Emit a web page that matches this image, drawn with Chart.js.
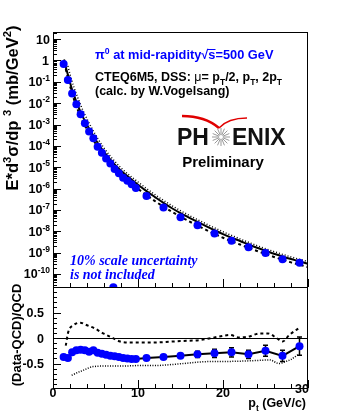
<!DOCTYPE html>
<html>
<head>
<meta charset="utf-8">
<script src="https://cdn.jsdelivr.net/npm/chart.js@4.4.0/dist/chart.umd.min.js"></script>
<style>
  body { margin: 0; background: #fff; }
  #wrap { position: relative; width: 346px; height: 418px; }
  canvas { position: absolute; left: 0; }
</style>
</head>
<body>
<div id="wrap">
  <canvas id="specChart" width="346" height="300" style="top:0"></canvas>
  <canvas id="ratioChart" width="346" height="138" style="top:280px"></canvas>
</div>
<script>
// measured pi0 cross section vs pT
var ptBins = [1.25, 1.75, 2.25, 2.75, 3.25, 3.75, 4.25, 4.75, 5.25, 5.75, 6.25, 6.75, 7.25, 7.75,
              8.25, 8.75, 9.25, 9.75, 11, 13, 15, 17, 19, 21, 23, 25, 27, 29];
var xsec = [0.69, 0.123, 0.0288, 8.9e-3, 3.0e-3, 1.15e-3, 4.7e-4, 2.3e-4, 9.1e-5, 4.8e-5, 2.6e-5,
            1.5e-5, 8.3e-6, 5.2e-6, 3.2e-6, 2.3e-6, 1.6e-6, 1.07e-6, 4.5e-7, 1.3e-7, 4.6e-8,
            1.9e-8, 7.8e-9, 3.6e-9, 1.8e-9, 9.5e-10, 4.9e-10, 3.4e-10];
// (Data-QCD)/QCD and its errors
var ratio = [-0.37, -0.39, -0.28, -0.24, -0.23, -0.24, -0.27, -0.24, -0.29, -0.31, -0.33, -0.35,
             -0.36, -0.37, -0.39, -0.40, -0.41, -0.41, -0.39, -0.37, -0.35, -0.32, -0.30, -0.28,
             -0.32, -0.25, -0.35, -0.16];
var ratioErr = [0, 0, 0, 0, 0, 0, 0, 0, 0, 0, 0, 0, 0, 0, 0, 0, 0, 0,
                0.02, 0.03, 0.04, 0.06, 0.08, 0.09, 0.08, 0.11, 0.11, 0.18];
// stray point sitting on the lower frame edge
var strayPt = [7.1];
var strayVal = [2.4e-11];

// NLO pQCD, mu = pT
var qcdPt = [1.3, 1.5, 1.75, 2, 2.25, 2.5, 2.75, 3, 3.5, 4, 4.5, 5, 5.5, 6, 7, 8, 9, 10, 11, 12, 13,
             14, 15, 16, 17, 18, 19, 20, 21, 22, 23, 24, 25, 26, 27, 28, 29, 30];
var qcdMid = [1.12, 0.50, 0.219, 0.093, 0.0427, 0.0219, 0.0117, 6.6e-3, 2.34e-3, 9.5e-4, 4.3e-4,
              2.0e-4, 9.8e-5, 5.2e-5, 1.74e-5, 6.8e-6, 3.2e-6, 1.51e-6, 7.6e-7, 4.0e-7, 2.14e-7,
              1.2e-7, 7.1e-8, 4.4e-8, 2.75e-8, 1.74e-8, 1.12e-8, 7.4e-9, 5.0e-9, 3.5e-9, 2.4e-9,
              1.7e-9, 1.23e-9, 8.9e-10, 6.6e-10, 5.0e-10, 3.9e-10, 3.0e-10];
// mu = pT/2 (dotted)
var hiPt = [1.75, 2, 2.5, 3, 3.5, 4, 5, 6, 7, 8, 10, 12, 14, 16, 18, 20, 22, 24, 26, 28, 30];
var qcdHi = [0.55, 0.224, 0.050, 0.0148, 4.8e-3, 1.82e-3, 3.3e-4, 7.9e-5, 2.5e-5, 9.3e-6, 2.04e-6,
             5.2e-7, 1.58e-7, 5.6e-8, 2.24e-8, 9.5e-9, 4.4e-9, 2.14e-9, 1.12e-9, 6.3e-10, 3.8e-10];
// mu = 2pT (dashed)
var loPt = [1.5, 1.75, 2, 2.5, 3, 3.5, 4, 5, 6, 7, 8, 10, 12, 14, 16, 18, 20, 22, 24, 26, 28, 30];
var qcdLo = [0.40, 0.158, 0.065, 0.0138, 4.0e-3, 1.41e-3, 5.9e-4, 1.29e-4, 3.4e-5, 1.1e-5, 4.3e-6,
             9.8e-7, 2.6e-7, 8.1e-8, 2.95e-8, 1.17e-8, 5.0e-9, 2.4e-9, 1.2e-9, 6.3e-10, 3.5e-10, 2.1e-10];

// scale curves in the ratio panel
var dashPt = [1.5, 1.8, 2.4, 3.2, 4, 4.9, 5.9, 6.9, 7.9, 9, 11.4, 14, 15, 17.3, 19.6, 20.8, 21.9,
              23.1, 24.3, 25.3, 26.3, 27, 27.8, 28.9];
var dashRatio = [-0.15, 0.12, 0.25, 0.30, 0.25, 0.19, 0.09, 0.01, -0.07, -0.09, -0.09, -0.07, -0.06,
                 -0.04, 0.03, 0.06, 0.01, 0.03, 0.09, 0.09, 0.0, -0.07, 0.06, 0.19];
var dotPt = [2.2, 3, 3.6, 4.7, 6.3, 8, 10.2, 12, 14, 16, 17.3, 18.8, 20, 22.7, 24, 25.5, 26.6, 27.4,
             28, 28.8];
var dotRatio = [-0.73, -0.67, -0.63, -0.56, -0.55, -0.55, -0.54, -0.54, -0.52, -0.49, -0.47, -0.46,
                -0.46, -0.45, -0.44, -0.43, -0.50, -0.46, -0.42, -0.33];

// axis ticks
var xMajor = [0, 10, 20, 30];
var xTickLabels = ['0', '10', '20', '30'];
var logExps = [1, 0, -1, -2, -3, -4, -5, -6, -7, -8, -9, -10];
var ratioTicks = [0.5, 0, -0.5];
var ratioTickLabels = ['0.5', '0', '-0.5'];

var BLUE = '#0000ff';
var FAM = '"Liberation Sans", Arial, sans-serif';

function pts(xs, ys) {
    return xs.map(function(x, i) { return { x: x, y: ys[i] }; });
}

function fnt(size, weight, style) {
    return (style || '') + ' ' + (weight || 'bold') + ' ' + size + 'px ' + FAM;
}

// draws text made of plain / superscript / subscript pieces
function drawRich(ctx, parts, x, y, size, align) {
    var w = 0;
    parts.forEach(function(p) {
        var s = p.s ? size * 0.68 : size;
        ctx.font = fnt(s, p.w, p.i);
        p._w = ctx.measureText(p.t).width;
        w += p._w;
    });
    var cx = align === 'right' ? x - w : align === 'center' ? x - w / 2 : x;
    ctx.textAlign = 'left';
    ctx.textBaseline = 'alphabetic';
    parts.forEach(function(p) {
        var s = p.s ? size * 0.68 : size;
        var dy = p.s === 'sup' ? -size * 0.42 : p.s === 'sub' ? size * 0.28 : 0;
        ctx.font = fnt(s, p.w, p.i);
        ctx.fillText(p.t, cx, y + dy);
        if (p.over) {
            ctx.fillRect(cx - 1, y - size * 0.78, p._w + 1, 1);
        }
        cx += p._w;
    });
    return w;
}

function spline(d) {
    return Object.assign({ showLine: true, pointRadius: 0, fill: false, cubicInterpolationMode: 'monotone' }, d);
}

// ROOT style frame with ticks pointing inwards
function drawFrame(chart, yMinor, yMajorList) {
    var ctx = chart.ctx, a = chart.chartArea;
    var xs = chart.scales.x, ys = chart.scales.y;
    ctx.save();
    ctx.strokeStyle = '#000';
    ctx.lineWidth = 1;
    ctx.strokeRect(a.left + 0.5, a.top + 0.5, a.right - a.left - 1, a.bottom - a.top);
    ctx.beginPath();
    for (var v = 0; v <= 30; v += 2) {
        var px = Math.round(xs.getPixelForValue(v)) + 0.5;
        var len = xMajor.indexOf(v) >= 0 ? 8 : 4;
        ctx.moveTo(px, a.bottom);
        ctx.lineTo(px, a.bottom - len);
    }
    yMinor.forEach(function(v) {
        var py = Math.round(ys.getPixelForValue(v)) + 0.5;
        if (py < a.top || py > a.bottom) return;
        var len = yMajorList.indexOf(v) >= 0 ? 8 : 4;
        ctx.moveTo(a.left, py);
        ctx.lineTo(a.left + len, py);
    });
    ctx.stroke();
    ctx.restore();
}

var logMinor = [];
var logMajor = [];
logExps.concat([-11]).forEach(function(e) {
    for (var m = 1; m <= 9; m++) {
        var v = m * Math.pow(10, e);
        logMinor.push(v);
        if (m === 1) logMajor.push(v);
    }
});

var specPlugin = {
    id: 'specDecor',
    afterDraw: function(chart) {
        var ctx = chart.ctx, ys = chart.scales.y;
        drawFrame(chart, logMinor, logMajor);
        ctx.save();
        ctx.fillStyle = '#000';
        // y tick labels
        logExps.forEach(function(e) {
            var py = ys.getPixelForValue(Math.pow(10, e)) + 4.5;
            if (e === 1) drawRich(ctx, [{ t: '10' }], 50, py, 12.5, 'right');
            else if (e === 0) drawRich(ctx, [{ t: '1' }], 49, py, 12.5, 'right');
            else drawRich(ctx, [{ t: '10' }, { t: String(e), s: 'sup' }], 50, py, 12.5, 'right');
        });
        // y title
        ctx.save();
        ctx.translate(18, 108);
        ctx.rotate(-Math.PI / 2);
        drawRich(ctx, [{ t: 'E*d' }, { t: '3', s: 'sup' }, { t: 'σ/dp ' }, { t: '3', s: 'sup' },
                       { t: ' (mb/GeV' }, { t: '2', s: 'sup' }, { t: ')' }], 0, 0, 16.5, 'center');
        ctx.restore();

        // labels in the plot
        ctx.fillStyle = BLUE;
        drawRich(ctx, [{ t: 'π' }, { t: '0', s: 'sup' }, { t: ' at mid-rapidity' }, { t: '√' },
                       { t: 's', over: true }, { t: '=500 GeV' }], 95, 59, 12.8);
        ctx.fillStyle = '#000';
        drawRich(ctx, [{ t: 'CTEQ6M5, DSS: ' }, { t: 'μ', w: 'normal' }, { t: '= p' }, { t: 'T', s: 'sub' },
                       { t: '/2, p' }, { t: 'T', s: 'sub' }, { t: ', 2p' }, { t: 'T', s: 'sub' }], 95, 81, 12.5);
        drawRich(ctx, [{ t: '(calc. by W.Vogelsang)' }], 95, 95, 12.5);

        // PHENIX logo
        ctx.strokeStyle = '#e00000';
        ctx.lineWidth = 2.5;
        ctx.beginPath();
        ctx.moveTo(182, 116);
        ctx.quadraticCurveTo(205, 116, 219, 128);
        ctx.stroke();
        ctx.lineWidth = 1.3;
        ctx.beginPath();
        ctx.moveTo(219, 128);
        ctx.quadraticCurveTo(228, 118, 247, 118);
        ctx.stroke();
        ctx.fillStyle = '#111';
        ctx.font = fnt(23);
        ctx.textAlign = 'left';
        ctx.fillText('PH', 177, 145);
        ctx.fillText('ENIX', 232, 145);
        ctx.strokeStyle = '#999';
        ctx.lineWidth = 1;
        ctx.beginPath();
        for (var k = 0; k < 16; k++) {
            var an = k * Math.PI / 8;
            ctx.moveTo(221 + 2 * Math.cos(an), 137 + 2 * Math.sin(an));
            ctx.lineTo(221 + 9 * Math.cos(an), 137 + 9 * Math.sin(an));
        }
        ctx.stroke();
        ctx.fillStyle = '#000';
        drawRich(ctx, [{ t: 'Preliminary' }], 223, 167, 15, 'center');

        ctx.fillStyle = BLUE;
        ctx.font = 'italic bold 14px "Liberation Serif", serif';
        ctx.fillText('10% scale uncertainty', 70, 265);
        ctx.fillText('is not included', 70, 279);
        ctx.restore();
    }
};

var ratioPlugin = {
    id: 'ratioDecor',
    beforeDatasetsDraw: function(chart) {
        var ctx = chart.ctx, xs = chart.scales.x, ys = chart.scales.y, a = chart.chartArea;
        ctx.save();
        ctx.strokeStyle = '#000';
        ctx.lineWidth = 1;
        ctx.beginPath();
        var y0 = Math.round(ys.getPixelForValue(0)) + 0.5;
        ctx.moveTo(a.left, y0);
        ctx.lineTo(a.right, y0);
        ctx.stroke();
        // error bars
        ctx.lineWidth = 1.5;
        ctx.beginPath();
        ptBins.forEach(function(p, i) {
            if (!ratioErr[i]) return;
            var px = xs.getPixelForValue(p);
            var t = ys.getPixelForValue(ratio[i] + ratioErr[i]);
            var b = ys.getPixelForValue(ratio[i] - ratioErr[i]);
            ctx.moveTo(px, t); ctx.lineTo(px, b);
            ctx.moveTo(px - 2.5, t); ctx.lineTo(px + 2.5, t);
            ctx.moveTo(px - 2.5, b); ctx.lineTo(px + 2.5, b);
        });
        ctx.stroke();
        ctx.restore();
    },
    afterDraw: function(chart) {
        var ctx = chart.ctx, xs = chart.scales.x, ys = chart.scales.y;
        var minor = [];
        for (var v = -9; v <= 10; v++) minor.push(v / 10);
        drawFrame(chart, minor, [0.5, 0, -0.5, 1]);
        ctx.save();
        ctx.fillStyle = '#000';
        ratioTicks.forEach(function(v, i) {
            drawRich(ctx, [{ t: ratioTickLabels[i] }], 44, ys.getPixelForValue(v) + 4.5, 12.5, 'right');
        });
        xMajor.forEach(function(v, i) {
            var px = xs.getPixelForValue(v);
            if (v === 30) drawRich(ctx, [{ t: xTickLabels[i] }], px + 1, 113, 12.5, 'right');
            else drawRich(ctx, [{ t: xTickLabels[i] }], px, 117, 12.5, 'center');
        });
        drawRich(ctx, [{ t: 'p' }, { t: 't', s: 'sub' }, { t: ' (GeV/c)' }], 306, 127, 12.5, 'right');
        ctx.save();
        ctx.translate(21, 55);
        ctx.rotate(-Math.PI / 2);
        drawRich(ctx, [{ t: '(Data-QCD)/QCD' }], 0, 0, 13, 'center');
        ctx.restore();
        ctx.restore();
    }
};

var noLegend = { legend: { display: false }, tooltip: { enabled: false } };

new Chart(document.getElementById('specChart'), {
    type: 'scatter',
    data: {
        datasets: [
            { data: pts(ptBins, xsec), pointRadius: 4, pointBorderWidth: 0, backgroundColor: BLUE, borderColor: BLUE },
            { data: pts(strayPt, strayVal), pointRadius: 4, pointBorderWidth: 0, backgroundColor: BLUE, clip: 0 },
            spline({ data: pts(qcdPt, qcdMid), borderColor: '#000', borderWidth: 2 }),
            spline({ data: pts(hiPt, qcdHi), borderColor: '#000', borderWidth: 1.5, borderDash: [1, 2] }),
            spline({ data: pts(loPt, qcdLo), borderColor: '#000', borderWidth: 2, borderDash: [3, 3] })
        ]
    },
    options: {
        responsive: false,
        animation: false,
        layout: { padding: { left: 53, right: 38, top: 32, bottom: 13 } },
        scales: {
            x: { type: 'linear', min: 0, max: 30, display: false },
            y: { type: 'logarithmic', min: 2.46e-11, max: 21.6, display: false }
        },
        plugins: noLegend
    },
    plugins: [specPlugin]
});

new Chart(document.getElementById('ratioChart'), {
    type: 'scatter',
    data: {
        datasets: [
            { data: pts(ptBins, ratio), showLine: true, borderColor: '#000', borderWidth: 2,
              pointRadius: 4, pointBorderWidth: 0, pointBackgroundColor: BLUE },
            spline({ data: pts(dashPt, dashRatio), borderColor: '#000', borderWidth: 2, borderDash: [3, 3] }),
            spline({ data: pts(dotPt, dotRatio), borderColor: '#000', borderWidth: 1.5, borderDash: [1, 1.5] })
        ]
    },
    options: {
        responsive: false,
        animation: false,
        layout: { padding: { left: 53, right: 38, top: 7, bottom: 30 } },
        scales: {
            x: { type: 'linear', min: 0, max: 30, display: false },
            y: { type: 'linear', min: -0.98, max: 1.0, display: false }
        },
        plugins: noLegend
    },
    plugins: [ratioPlugin]
});
</script>
</body>
</html>
